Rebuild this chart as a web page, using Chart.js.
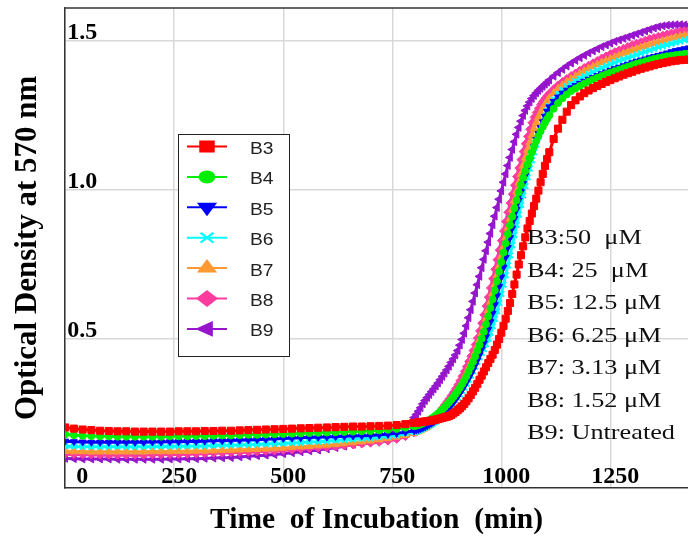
<!DOCTYPE html>
<html>
<head>
<meta charset="utf-8">
<script src="https://cdn.jsdelivr.net/npm/chart.js@4.4.0/dist/chart.umd.min.js"></script>
<style>
  html, body { margin: 0; padding: 0; background: #fff; }
  #wrap { width: 688px; height: 540px; }
</style>
</head>
<body>
<div id="wrap"><canvas id="odChart" width="688" height="540"></canvas></div>
<script>
// incubation time (min), denser sampling through the growth phase
var minutes = [0,20,40,60,80,100,120,140,160,180,200,220,240,260,280,300,320,340,360,380,400,420,440,460,480,500,520,540,560,580,600,620,640,660,680,700,720,740,760,780,800,
  805,810,815,820,825,830,835,840,845,850,855,860,865,870,875,880,885,890,895,900,905,910,915,920,925,930,935,940,945,950,955,960,965,970,975,980,985,990,995,1000,1005,1010,1015,1020,1025,1030,1035,1040,1045,1050,1055,1060,1065,1070,1075,1080,1085,1090,1095,1100,1105,1110,
  1120,1130,1140,1150,1160,1170,1180,1190,1200,1210,1220,1230,1240,1250,1260,1270,1280,1290,1300,1310,1320,1330,1340,1350,1360,1370,1380,1390,1400,1410,1420,1430];

var B3 = [0.202,0.198,0.195,0.193,0.191,0.190,0.189,0.189,0.188,0.188,0.188,0.188,0.188,0.189,0.189,0.189,0.190,0.190,0.191,0.191,0.192,0.193,0.194,0.195,0.196,0.197,0.198,0.199,0.200,0.201,0.202,0.203,0.204,0.205,0.205,0.206,0.207,0.208,0.210,0.213,0.217,
  0.218,0.219,0.220,0.221,0.222,0.223,0.224,0.225,0.227,0.228,0.230,0.232,0.234,0.236,0.238,0.240,0.244,0.249,0.254,0.260,0.266,0.273,0.281,0.290,0.300,0.311,0.323,0.335,0.348,0.362,0.376,0.390,0.404,0.418,0.432,0.446,0.462,0.480,0.499,0.520,0.543,0.567,0.593,0.620,0.650,0.682,0.715,0.749,0.780,0.810,0.840,0.870,0.895,0.920,0.945,0.970,0.997,1.025,1.053,1.080,1.103,1.126,
  1.170,1.205,1.235,1.262,1.284,1.300,1.313,1.324,1.333,1.341,1.348,1.355,1.362,1.368,1.374,1.380,1.386,1.391,1.396,1.401,1.406,1.410,1.414,1.418,1.422,1.425,1.428,1.431,1.433,1.435,1.436,1.437];

var B4 = [0.179,0.176,0.174,0.173,0.172,0.172,0.171,0.171,0.171,0.171,0.171,0.171,0.172,0.172,0.172,0.173,0.173,0.174,0.175,0.175,0.176,0.177,0.177,0.178,0.179,0.180,0.181,0.182,0.183,0.184,0.185,0.186,0.187,0.188,0.189,0.190,0.192,0.194,0.197,0.201,0.206,
  0.208,0.210,0.213,0.216,0.219,0.223,0.227,0.232,0.237,0.243,0.249,0.256,0.263,0.270,0.278,0.286,0.295,0.304,0.314,0.324,0.335,0.347,0.360,0.374,0.389,0.405,0.422,0.440,0.459,0.479,0.500,0.523,0.548,0.575,0.603,0.632,0.662,0.693,0.725,0.757,0.789,0.820,0.851,0.881,0.910,0.938,0.965,0.991,1.016,1.040,1.063,1.085,1.106,1.126,1.145,1.163,1.180,1.196,1.211,1.225,1.238,1.250,
  1.272,1.291,1.307,1.320,1.331,1.340,1.348,1.356,1.363,1.370,1.376,1.382,1.388,1.393,1.398,1.403,1.408,1.413,1.418,1.423,1.427,1.431,1.435,1.439,1.442,1.445,1.448,1.450,1.452,1.454,1.456,1.457];

var B5 = [0.156,0.154,0.153,0.152,0.152,0.152,0.152,0.152,0.152,0.152,0.153,0.153,0.154,0.154,0.155,0.155,0.156,0.157,0.157,0.158,0.159,0.160,0.161,0.162,0.163,0.165,0.166,0.167,0.168,0.169,0.170,0.171,0.172,0.173,0.174,0.175,0.177,0.179,0.182,0.186,0.191,
  0.193,0.195,0.198,0.201,0.204,0.208,0.212,0.216,0.221,0.226,0.232,0.238,0.245,0.252,0.260,0.268,0.277,0.286,0.296,0.306,0.317,0.328,0.340,0.353,0.366,0.380,0.395,0.411,0.428,0.446,0.465,0.485,0.507,0.531,0.557,0.585,0.614,0.644,0.675,0.707,0.740,0.773,0.806,0.839,0.871,0.903,0.934,0.964,0.993,1.021,1.048,1.074,1.099,1.123,1.146,1.168,1.189,1.209,1.228,1.246,1.263,1.278,
  1.296,1.311,1.324,1.334,1.342,1.350,1.357,1.364,1.371,1.377,1.383,1.389,1.395,1.401,1.406,1.411,1.416,1.421,1.426,1.431,1.435,1.439,1.443,1.447,1.451,1.455,1.459,1.463,1.467,1.470,1.473,1.476];

var B6 = [0.139,0.138,0.137,0.137,0.137,0.137,0.137,0.137,0.137,0.137,0.138,0.138,0.138,0.139,0.139,0.140,0.140,0.141,0.142,0.142,0.143,0.144,0.145,0.146,0.147,0.148,0.150,0.151,0.153,0.154,0.156,0.158,0.160,0.162,0.164,0.166,0.169,0.172,0.176,0.181,0.187,
  0.189,0.191,0.194,0.197,0.200,0.204,0.208,0.212,0.217,0.222,0.228,0.234,0.241,0.248,0.256,0.264,0.273,0.282,0.292,0.302,0.313,0.324,0.336,0.349,0.362,0.376,0.391,0.406,0.422,0.438,0.452,0.465,0.482,0.500,0.520,0.542,0.566,0.592,0.620,0.650,0.681,0.713,0.746,0.780,0.814,0.848,0.882,0.916,0.949,0.981,1.012,1.042,1.071,1.099,1.126,1.152,1.177,1.201,1.224,1.245,1.264,1.281,
  1.303,1.321,1.335,1.346,1.356,1.365,1.373,1.381,1.388,1.395,1.402,1.409,1.415,1.421,1.427,1.433,1.438,1.443,1.448,1.453,1.458,1.463,1.468,1.473,1.478,1.482,1.486,1.490,1.494,1.498,1.502,1.505];

var B7 = [0.122,0.121,0.121,0.120,0.120,0.120,0.120,0.120,0.120,0.120,0.121,0.121,0.121,0.122,0.122,0.123,0.123,0.124,0.125,0.126,0.127,0.128,0.129,0.130,0.131,0.133,0.135,0.137,0.139,0.141,0.143,0.145,0.148,0.151,0.154,0.157,0.161,0.165,0.170,0.176,0.183,
  0.186,0.189,0.192,0.196,0.200,0.204,0.209,0.214,0.220,0.226,0.233,0.241,0.250,0.259,0.269,0.280,0.291,0.302,0.314,0.326,0.339,0.353,0.368,0.384,0.400,0.417,0.435,0.454,0.474,0.495,0.517,0.541,0.567,0.594,0.622,0.651,0.681,0.712,0.743,0.775,0.807,0.839,0.871,0.902,0.933,0.963,0.993,1.023,1.052,1.080,1.107,1.133,1.158,1.182,1.205,1.225,1.243,1.259,1.273,1.286,1.297,1.307,
  1.325,1.339,1.351,1.362,1.372,1.381,1.390,1.398,1.406,1.413,1.420,1.427,1.433,1.439,1.445,1.451,1.457,1.462,1.467,1.472,1.477,1.482,1.487,1.491,1.495,1.499,1.503,1.507,1.511,1.515,1.518,1.521];

var B8 = [0.112,0.111,0.110,0.110,0.109,0.109,0.109,0.109,0.109,0.109,0.110,0.110,0.111,0.111,0.112,0.113,0.114,0.115,0.116,0.117,0.118,0.119,0.120,0.122,0.123,0.125,0.127,0.129,0.131,0.133,0.135,0.137,0.140,0.143,0.146,0.149,0.152,0.156,0.162,0.171,0.183,
  0.186,0.190,0.194,0.199,0.204,0.210,0.216,0.223,0.231,0.240,0.249,0.258,0.268,0.278,0.288,0.298,0.309,0.320,0.332,0.345,0.359,0.374,0.390,0.406,0.423,0.441,0.460,0.480,0.502,0.526,0.552,0.580,0.609,0.639,0.670,0.701,0.733,0.765,0.797,0.829,0.861,0.893,0.924,0.955,0.985,1.015,1.044,1.073,1.101,1.128,1.154,1.179,1.203,1.225,1.243,1.259,1.273,1.286,1.297,1.307,1.316,1.324,
  1.339,1.352,1.363,1.373,1.383,1.392,1.401,1.410,1.418,1.426,1.434,1.442,1.449,1.456,1.463,1.469,1.475,1.481,1.487,1.492,1.497,1.502,1.507,1.511,1.515,1.519,1.523,1.526,1.529,1.532,1.534,1.535];

var B9 = [0.098,0.097,0.096,0.096,0.096,0.096,0.095,0.095,0.095,0.095,0.095,0.095,0.096,0.096,0.097,0.097,0.098,0.099,0.100,0.101,0.103,0.105,0.107,0.109,0.111,0.114,0.117,0.120,0.123,0.126,0.130,0.134,0.139,0.145,0.151,0.160,0.170,0.182,0.195,0.212,0.235,
  0.245,0.256,0.268,0.281,0.292,0.302,0.312,0.322,0.331,0.341,0.351,0.362,0.373,0.384,0.395,0.407,0.420,0.432,0.445,0.460,0.478,0.497,0.518,0.543,0.570,0.597,0.625,0.653,0.681,0.709,0.738,0.766,0.795,0.824,0.853,0.882,0.911,0.940,0.968,0.996,1.025,1.053,1.081,1.108,1.135,1.161,1.186,1.209,1.230,1.249,1.266,1.281,1.294,1.306,1.316,1.325,1.333,1.340,1.347,1.354,1.361,1.368,
  1.381,1.393,1.404,1.415,1.425,1.434,1.443,1.451,1.459,1.466,1.473,1.480,1.486,1.492,1.498,1.503,1.508,1.513,1.518,1.523,1.528,1.533,1.538,1.543,1.547,1.550,1.552,1.553,1.554,1.554,1.553,1.552];

var seriesNames = ['B3', 'B4', 'B5', 'B6', 'B7', 'B8', 'B9'];
var seriesValues = [B3, B4, B5, B6, B7, B8, B9];
var seriesColors = ['#ff0000', '#00ee00', '#0000ff', '#00ffff', '#ff9933', '#ff3c9e', '#9616cc'];
var seriesMarkers = ['rect', 'circle', 'triangle', 'crossRot', 'triangle', 'rectRot', 'triangle'];
var markerTurn = [0, 0, 180, 0, 0, 0, -90];
var markerSize = [5, 3.5, 4, 4, 4.5, 4, 4.5];
var doseNotes = ['B3:50  \u03bcM', 'B4: 25  \u03bcM', 'B5: 12.5 \u03bcM', 'B6: 6.25 \u03bcM', 'B7: 3.13 \u03bcM', 'B8: 1.52 \u03bcM', 'B9: Untreated'];
var xTicks = [0, 250, 500, 750, 1000, 1250];
var yTicks = [0.5, 1.0, 1.5];

var datasets = [];
for (var i = 0; i < seriesNames.length; i++) {
  datasets.push({
    label: seriesNames[i],
    data: minutes.map(function(t, k) { return { x: t, y: seriesValues[i][k] }; }),
    borderColor: seriesColors[i],
    backgroundColor: seriesColors[i],
    borderWidth: 3,
    pointStyle: seriesMarkers[i],
    pointRotation: markerTurn[i],
    pointRadius: markerSize[i],
    pointBorderWidth: seriesMarkers[i] === 'crossRot' ? 2 : 1,
    pointBorderColor: seriesColors[i],
    pointBackgroundColor: seriesColors[i],
    tension: 0
  });
}

// frame top edge, legend box and the concentration notes
var extrasPlugin = {
  id: 'extras',
  afterDatasetsDraw: function(chart) {
    var ctx = chart.ctx, a = chart.chartArea;
    ctx.save();
    ctx.strokeStyle = '#333';
    ctx.lineWidth = 1.5;
    ctx.beginPath();
    ctx.moveTo(a.left, a.top);
    ctx.lineTo(a.right, a.top);
    ctx.stroke();

    // legend
    ctx.fillStyle = '#fff';
    ctx.fillRect(178, 134, 112, 223);
    ctx.strokeStyle = '#222';
    ctx.lineWidth = 1;
    ctx.strokeRect(178.5, 134.5, 111, 222);
    for (var i = 0; i < seriesNames.length; i++) {
      var y = 146.5 + i * 30.4;
      ctx.strokeStyle = seriesColors[i];
      ctx.fillStyle = seriesColors[i];
      ctx.lineWidth = 2;
      ctx.beginPath();
      ctx.moveTo(187, y);
      ctx.lineTo(227, y);
      ctx.stroke();
      ctx.save();
      ctx.translate(207, y);
      ctx.scale(1.3, 1);
      if (Chart.helpers && Chart.helpers.drawPoint) {
        Chart.helpers.drawPoint(ctx, {
          pointStyle: seriesMarkers[i],
          rotation: markerTurn[i],
          radius: seriesMarkers[i] === 'circle' ? 5.5 : 7,
          borderWidth: seriesMarkers[i] === 'crossRot' ? 2.5 : 1
        }, 0, 0);
      } else {
        ctx.fillRect(-5, -5, 10, 10);
      }
      ctx.restore();
      ctx.save();
      ctx.translate(250, y + 3);
      ctx.scale(1.2, 1);
      ctx.fillStyle = '#222';
      ctx.font = '16px "Liberation Sans", Arial, sans-serif';
      ctx.textBaseline = 'middle';
      ctx.fillText(seriesNames[i], 0, 0);
      ctx.restore();
    }

    // notes
    ctx.fillStyle = '#111';
    ctx.font = '21px "Liberation Serif", "Times New Roman", serif';
    ctx.textBaseline = 'alphabetic';
    for (var j = 0; j < doseNotes.length; j++) {
      ctx.save();
      ctx.translate(527, 244 + j * 32.5);
      ctx.scale(1.25, 1);
      ctx.fillText(doseNotes[j], 0, 0);
      ctx.restore();
    }
    ctx.restore();
  }
};

var serif = '"Liberation Serif", "Times New Roman", serif';

new Chart(document.getElementById('odChart'), {
  type: 'line',
  data: { datasets: datasets },
  options: {
    responsive: false,
    animation: false,
    devicePixelRatio: 1,
    events: [],
    layout: { padding: { left: 6, top: 8, right: 0, bottom: 0 }, autoPadding: false },
    plugins: { legend: { display: false }, tooltip: { enabled: false } },
    scales: {
      x: {
        type: 'linear',
        min: 0,
        max: 1428,
        afterBuildTicks: function(axis) { axis.ticks = xTicks.map(function(v) { return { value: v }; }); },
        grid: { color: '#d9d9d9', lineWidth: 1.5, drawTicks: false },
        border: { color: '#333', width: 1.5 },
        ticks: {
          font: { family: serif, size: 24, weight: 'bold' },
          color: '#000',
          mirror: true,
          padding: -4,
          labelOffset: 5,
          maxRotation: 0,
          autoSkip: false,
          z: 1,
          callback: function(v) { return v === 0 ? '    0' : String(v); }
        },
        title: { display: true, text: 'Time  of Incubation  (min)', font: { family: serif, size: 29.5, weight: 'bold' }, color: '#000', padding: { top: 23, bottom: 2 } }
      },
      y: {
        min: 0,
        max: 1.61,
        afterBuildTicks: function(axis) { axis.ticks = yTicks.map(function(v) { return { value: v }; }); },
        grid: { color: '#d9d9d9', lineWidth: 1.5, drawTicks: false },
        border: { color: '#333', width: 1.5 },
        ticks: {
          font: { family: serif, size: 24, weight: 'bold', lineHeight: 0.5 },
          color: '#000',
          mirror: true,
          padding: 2,
          labelOffset: -8,
          callback: function(v) { return v.toFixed(1); }
        },
        title: { display: true, text: 'Optical Density at 570 nm', font: { family: serif, size: 31, weight: 'bold' }, color: '#000', padding: { top: 3, bottom: 15 } }
      }
    }
  },
  plugins: [extrasPlugin]
});
</script>
</body>
</html>
